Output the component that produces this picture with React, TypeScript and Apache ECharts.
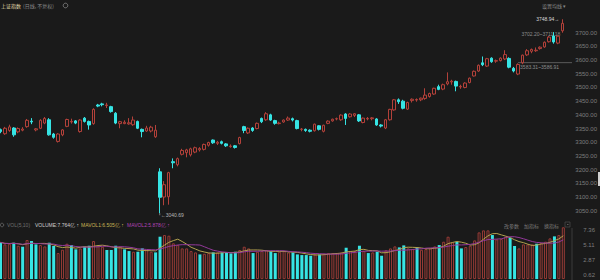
import React, { useEffect, useRef } from 'react';
import * as echarts from 'echarts';

// [open, close, low, high]
const candles: number[][] = [
  [3346, 3339, 3333, 3350], [3331, 3351, 3327, 3356], [3343, 3356, 3338, 3364], [3352, 3327, 3320, 3355],
  [3338, 3350, 3333, 3354], [3344, 3348, 3340, 3355], [3357, 3380, 3353, 3385], [3377, 3374, 3366, 3388],
  [3345, 3349, 3340, 3352], [3351, 3380, 3348, 3384], [3370, 3387, 3366, 3392], [3382, 3327, 3324, 3388],
  [3330, 3318, 3313, 3334], [3303, 3330, 3299, 3333], [3327, 3345, 3322, 3348], [3358, 3383, 3355, 3386],
  [3374, 3376, 3368, 3386], [3378, 3370, 3366, 3381], [3339, 3381, 3335, 3384], [3388, 3376, 3372, 3392],
  [3376, 3363, 3346, 3379], [3368, 3420, 3364, 3424], [3436, 3432, 3428, 3440], [3440, 3437, 3431, 3444],
  [3434, 3436, 3425, 3444], [3430, 3412, 3408, 3433], [3406, 3370, 3366, 3410], [3368, 3375, 3351, 3378],
  [3368, 3373, 3366, 3380], [3367, 3371, 3364, 3388], [3364, 3381, 3360, 3394], [3376, 3351, 3348, 3379],
  [3347, 3339, 3318, 3350], [3341, 3352, 3338, 3360], [3341, 3355, 3336, 3360], [3320, 3344, 3316, 3363],
  [3192, 3099, 3040.69, 3205], [3100, 3145, 3070, 3158], [3101, 3189, 3072, 3192], [3229, 3225, 3205, 3241],
  [3218, 3240, 3212, 3244], [3256, 3270, 3252, 3276], [3262, 3272, 3245, 3276], [3254, 3276, 3248, 3280],
  [3264, 3280, 3260, 3284], [3272, 3277, 3266, 3282], [3274, 3292, 3270, 3295], [3289, 3299, 3284, 3302],
  [3308, 3298, 3294, 3310], [3296, 3300, 3290, 3305], [3302, 3296, 3292, 3306], [3294, 3287, 3283, 3297],
  [3284, 3286, 3280, 3292], [3287, 3281, 3277, 3290], [3295, 3317, 3292, 3320], [3357, 3343, 3333, 3360],
  [3334, 3351, 3330, 3354], [3352, 3343, 3338, 3355], [3350, 3369, 3347, 3372], [3387, 3375, 3370, 3390],
  [3382, 3404, 3378, 3410], [3400, 3381, 3378, 3404], [3379, 3369, 3364, 3382], [3368, 3370, 3365, 3375],
  [3374, 3381, 3371, 3383], [3381, 3388, 3378, 3394], [3386, 3381, 3376, 3390], [3379, 3350, 3347, 3382],
  [3347, 3348, 3340, 3352], [3347, 3343, 3338, 3350], [3344, 3340, 3336, 3347], [3342, 3366, 3339, 3368],
  [3360, 3347, 3343, 3362], [3340, 3362, 3336, 3364], [3369, 3377, 3366, 3380], [3378, 3384, 3375, 3386],
  [3385, 3386, 3380, 3390], [3382, 3399, 3378, 3402], [3403, 3387, 3363, 3406], [3393, 3403, 3390, 3406],
  [3398, 3404, 3392, 3406], [3400, 3378, 3374, 3403], [3372, 3388, 3369, 3390], [3385, 3387, 3380, 3392],
  [3386, 3389, 3380, 3392], [3385, 3363, 3360, 3388], [3363, 3359, 3354, 3366], [3352, 3382, 3348, 3385],
  [3382, 3420, 3379, 3422], [3418, 3455, 3415, 3458], [3455, 3448, 3440, 3460], [3450, 3424, 3420, 3455],
  [3421, 3445, 3418, 3448], [3452, 3457, 3445, 3460], [3454, 3456, 3448, 3460], [3455, 3461, 3450, 3463],
  [3460, 3472, 3455, 3497], [3467, 3478, 3463, 3481], [3476, 3497, 3473, 3499], [3503, 3493, 3490, 3510],
  [3494, 3510, 3490, 3514], [3513, 3521, 3508, 3555], [3520, 3523, 3510, 3528], [3522, 3505, 3486, 3525],
  [3502, 3504, 3495, 3510], [3500, 3516, 3497, 3519], [3518, 3534, 3515, 3536], [3542, 3559, 3540, 3562],
  [3560, 3581, 3557, 3584], [3590, 3583, 3578, 3613], [3578, 3605, 3575, 3608], [3607, 3594, 3590, 3610],
  [3596, 3598, 3590, 3602], [3598, 3607, 3595, 3610], [3604, 3620, 3600, 3636], [3606, 3574, 3570, 3610],
  [3570, 3560, 3555, 3575], [3549, 3584, 3545, 3588], [3590, 3618, 3585, 3620], [3619, 3634, 3615, 3640],
  [3632, 3639, 3625, 3642], [3634, 3636, 3630, 3646], [3642, 3647, 3638, 3650], [3648, 3665, 3645, 3668],
  [3667, 3684, 3664, 3688], [3688, 3666, 3660, 3702], [3662, 3687, 3658, 3690], [3707, 3734, 3700, 3748.94],
];

// volume (亿)
const volumes: number[] = [
  5.5, 5.2, 5.3, 5.45, 5.0, 4.85, 5.86, 5.7, 5.2, 5.1, 4.9, 5.45, 4.96, 3.9, 4.4, 5.3,
  5.1, 4.46, 4.6, 4.85, 5.0, 5.7, 5.0, 4.85, 4.36, 4.36, 5.0, 4.85, 4.46, 4.2, 4.1, 4.1,
  4.6, 4.36, 4.1, 4.0, 6.35, 6.6, 6.5, 5.36, 5.1, 4.6, 4.6, 4.2, 4.0, 3.7, 3.8, 3.9,
  4.0, 4.0, 4.0, 4.0, 3.85, 4.1, 4.36, 4.85, 4.6, 3.9, 4.1, 4.2, 4.36, 4.2, 3.9, 4.1,
  4.2, 4.0, 4.0, 3.7, 3.6, 3.6, 3.5, 3.7, 3.7, 3.8, 3.9, 3.9, 3.9, 4.0, 4.7, 4.2,
  4.2, 5.0, 4.2, 3.9, 4.0, 4.1, 3.5, 4.3, 4.6, 4.9, 4.75, 5.05, 4.6, 4.5, 4.75, 4.4,
  4.5, 4.6, 4.9, 5.1, 5.6, 6.35, 5.5, 5.6, 4.6, 4.8, 5.0, 5.8, 7.0, 7.3, 7.3, 6.6,
  5.95, 6.0, 6.35, 6.2, 4.96, 4.6, 5.2, 5.2, 5.2, 5.3, 5.4, 5.6, 6.1, 6.4, 6.6, 7.764,
];

const categories: string[] = candles.map((_, i) => `D${i + 1}`);
const priceTicks: number[] = [3050, 3100, 3150, 3200, 3250, 3300, 3350, 3400, 3450, 3500, 3550, 3600, 3650, 3700];
const volTicks: number[] = [0.62, 2.87, 5.11, 7.36];
const legendValues: string[] = ['7.764亿', '6.505亿', '5.878亿'];
const toolButtons: string[] = ['改参数', '加指标', '换指标'];
const highLabel = '3748.94';
const lowLabel = '3040.69';
const gapLabel = '3583.31~3586.91';
const gapLabel2 = '3702.20~3711.18';

const UP = '#b3413a';
const DOWN = '#36e4e4';
const VUP = '#983b36';
const BG = '#1a1a1a';
const NUMFONT = "'Liberation Sans', 'DejaVu Sans', sans-serif";
const CJKFONT = "'Noto Sans CJK SC', 'Liberation Sans', sans-serif";

function movingAvg(arr: number[], n: number): number[] {
  return arr.map((_, i) => {
    const s = Math.max(0, i - n + 1);
    const slice = arr.slice(s, i + 1);
    return +(slice.reduce((a, b) => a + b, 0) / slice.length).toFixed(3);
  });
}

export default function App() {
  const ref = useRef<HTMLDivElement>(null);
  useEffect(() => {
    if (!ref.current) return;
    const chart = echarts.init(ref.current, undefined, { renderer: 'svg' });
    const ma5 = movingAvg(volumes, 5);
    const ma10 = movingAvg(volumes, 10);
    const volData = volumes.map((v, i) => {
      const up = i === 0 ? candles[i][1] >= candles[i][0] : candles[i][1] >= candles[i - 1][1];
      return {
        value: v,
        itemStyle: up
          ? { color: 'rgba(0,0,0,0)', borderColor: VUP, borderWidth: 1 }
          : { color: DOWN, borderWidth: 0 },
      };
    });
    const option: any = {
      animation: false,
      backgroundColor: BG,
      grid: [
        { left: 0.5, right: 36.7, top: 5.3, height: 219.1 },
        { left: 0.5, right: 36.7, top: 225.7, height: 53.4 },
      ],
      xAxis: [
        { type: 'category', data: categories, gridIndex: 0, boundaryGap: false, show: false },
        { type: 'category', data: categories, gridIndex: 1, boundaryGap: false, show: false },
      ],
      yAxis: [
        {
          type: 'value', gridIndex: 0, position: 'right', min: 3000, max: 3800,
          splitLine: { show: false }, axisLine: { show: false }, axisTick: { show: false },
          axisLabel: {
            customValues: priceTicks, formatter: (v: number) => v.toFixed(2),
            color: '#7d7d7d', fontSize: 6, margin: 13, fontFamily: NUMFONT,
          },
        },
        {
          type: 'value', gridIndex: 1, position: 'right', min: 0, max: 8,
          splitLine: { show: false }, axisLine: { show: false }, axisTick: { show: false },
          axisLabel: {
            customValues: volTicks, formatter: (v: number) => v.toFixed(2),
            color: '#7d7d7d', fontSize: 6, margin: 20, fontFamily: NUMFONT,
          },
        },
      ],
      series: [
        {
          type: 'candlestick', data: candles, barWidth: 3, clip: false, z: 3,
          itemStyle: { color: 'rgba(0,0,0,0)', color0: DOWN, borderColor: UP, borderColor0: DOWN, borderWidth: 1 },
        },
        { type: 'bar', xAxisIndex: 1, yAxisIndex: 1, data: volData, barWidth: 3 },
        {
          type: 'line', xAxisIndex: 1, yAxisIndex: 1, data: ma5, symbol: 'none', z: 4,
          lineStyle: { width: 1, color: '#b3a24f' },
        },
        {
          type: 'line', xAxisIndex: 1, yAxisIndex: 1, data: ma10, symbol: 'none', z: 4,
          lineStyle: { width: 1, color: '#93399a' },
        },
      ],
    };
    chart.setOption(option);

    const last = candles.length - 1;
    const hi = chart.convertToPixel({ gridIndex: 0 }, [last, candles[last][3]]) as number[];
    let lowIdx = 0;
    candles.forEach((c, i) => { if (c[2] < candles[lowIdx][2]) lowIdx = i; });
    const lo = chart.convertToPixel({ gridIndex: 0 }, [lowIdx, candles[lowIdx][2]]) as number[];
    const gap = chart.convertToPixel({ gridIndex: 0 }, [117, 3590.6]) as number[];
    const gap2 = chart.convertToPixel({ gridIndex: 0 }, [118, 3696]) as number[];

    const txt = (x: number, y: number, text: string, fill: string, size = 5, font = NUMFONT, align = 'left', z = 100) => ({
      type: 'text', x, y, z,
      style: { text, fill, fontSize: size, fontFamily: font, align, verticalAlign: 'middle' },
    });

    chart.setOption({
      graphic: [
        // header
        txt(1, 5.5, '上证指数', '#e3dcae', 5, CJKFONT),
        txt(23, 5.5, '(日线, 不复权)', '#8a8a8a', 5, CJKFONT),
        { type: 'circle', z: 100, shape: { cx: 65.5, cy: 5.5, r: 2.3 }, style: { fill: 'none', stroke: '#8a8a8a', lineWidth: 0.8 } },
        txt(542, 5.5, '设置均线 ▾', '#8a8a8a', 5, CJKFONT),
        // high / low annotations
        txt(hi[0] - 3, hi[1], `${highLabel}→`, '#d8d8d8', 5, NUMFONT, 'right'),
        { type: 'line', z: 100, shape: { x1: lo[0], y1: lo[1], x2: lo[0], y2: lo[1] + 2 }, style: { stroke: '#9a9a9a', lineWidth: 0.8 } },
        txt(lo[0] + 1, lo[1] + 2, `←${lowLabel}`, '#b8b8b8', 5, NUMFONT, 'left'),
        // gap annotations
        { type: 'line', z: 1, shape: { x1: gap[0], y1: gap[1], x2: 572, y2: gap[1] }, style: { stroke: '#5a5a5a', lineWidth: 1 } },
        txt(gap[0] + 2, gap[1] + 4.5, gapLabel, '#8d8d8d', 5, NUMFONT, 'left', 1),
        txt(gap2[0] - 1, gap2[1], gapLabel2, '#8d8d8d', 5, NUMFONT, 'left', 1),
        // volume legend
        { type: 'circle', z: 100, shape: { cx: 2, cy: 225, r: 1.8 }, style: { fill: 'none', stroke: '#6a6a6a', lineWidth: 0.8 } },
        txt(7, 225, 'VOL(5,10)', '#6f6f6f'),
        txt(35, 225, `VOLUME:${legendValues[0]} ↑`, '#d0d0d0'),
        txt(81, 225, `MAVOL1:${legendValues[1]} ↑`, '#c9b455'),
        txt(127, 225, `MAVOL2:${legendValues[2]} ↑`, '#b243b6'),
        // tool buttons
        txt(504, 225, toolButtons[0], '#7a7a7a', 5, CJKFONT),
        txt(524, 225, toolButtons[1], '#7a7a7a', 5, CJKFONT),
        txt(544, 225, toolButtons[2], '#7a7a7a', 5, CJKFONT),
        { type: 'rect', z: 100, shape: { x: 565, y: 222, width: 5, height: 5 }, style: { fill: 'none', stroke: '#555', lineWidth: 0.6 } },
        { type: 'line', z: 100, shape: { x1: 567, y1: 224.5, x2: 568.5, y2: 224.5 }, style: { stroke: '#888', lineWidth: 0.6 } },
        // separator and side tab
        { type: 'line', z: 100, shape: { x1: 572, y1: 228, x2: 572, y2: 280 }, style: { stroke: '#3a3a3a', lineWidth: 1 } },
        { type: 'rect', z: 100, shape: { x: 598, y: 172, width: 2, height: 14 }, style: { fill: '#cfcfcf' } },
      ],
    });

    return () => chart.dispose();
  }, []);

  return (
    <div
      ref={ref}
      style={{ position: 'absolute', left: 0, top: 0, width: 600, height: 280, background: BG }}
    />
  );
}
